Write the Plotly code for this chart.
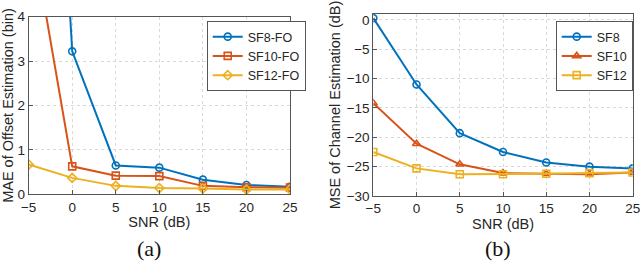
import plotly.graph_objects as go

snr = [-5, 0, 5, 10, 15, 20, 25]

# (a) MAE of offset estimation (bin)
mae_sf8 = [20.0, 3.22, 0.65, 0.60, 0.33, 0.21, 0.17]
mae_sf10 = [6.3, 0.63, 0.42, 0.41, 0.19, 0.16, 0.15]
mae_sf12 = [0.67, 0.37, 0.19, 0.14, 0.13, 0.11, 0.11]

# (b) MSE of channel estimation (dB)
mse_sf8 = [0.3, -11.0, -19.3, -22.5, -24.3, -25.0, -25.3]
mse_sf10 = [-14.2, -21.1, -24.6, -26.1, -26.2, -26.3, -26.0]
mse_sf12 = [-22.5, -25.3, -26.3, -26.3, -26.2, -26.1, -26.0]

x_ticks = [-5, 0, 5, 10, 15, 20, 25]
ya_ticks = [0, 1, 2, 3, 4]
yb_ticks = [-30, -25, -20, -15, -10, -5, 0]

C1, C2, C3 = "#0072BD", "#D95319", "#EDB120"
FONT = "Liberation Sans, Arial, sans-serif"
SERIF = "Liberation Serif, Times New Roman, serif"

fig = go.Figure()

def add(x, y, name, color, symbol, xa, ya, legend):
    fig.add_trace(go.Scatter(
        x=x, y=y, name=name, mode="lines+markers",
        line=dict(color=color, width=2),
        marker=dict(symbol=symbol, size=7, color=color,
                    line=dict(color=color, width=1.6)),
        xaxis=xa, yaxis=ya, legend=legend, cliponaxis=True))

add(snr, mae_sf8, "SF8-FO", C1, "circle-open", "x", "y", "legend")
add(snr, mae_sf10, "SF10-FO", C2, "square-open", "x", "y", "legend")
add(snr, mae_sf12, "SF12-FO", C3, "diamond-open", "x", "y", "legend")
add(snr, mse_sf8, "SF8", C1, "circle-open", "x2", "y2", "legend2")
add(snr, mse_sf10, "SF10", C2, "triangle-up-open", "x2", "y2", "legend2")
add(snr, mse_sf12, "SF12", C3, "square-open", "x2", "y2", "legend2")

axis_common = dict(
    showline=True, linecolor="#555555", linewidth=1, mirror=True,
    ticks="inside", ticklen=4, tickcolor="#555555",
    showgrid=True, gridcolor="#d9d9d9", griddash="dot", gridwidth=1,
    zeroline=False, automargin=False, ticklabeloverflow="allow",
    tickfont=dict(family=FONT, size=13.5, color="#262626"),
    title_font=dict(family=FONT, size=14.5, color="#262626"),
)

LEG = dict(bgcolor="white", bordercolor="#555555", borderwidth=1,
           font=dict(family=FONT, size=12.5, color="#262626"),
           itemwidth=30, tracegroupgap=0)

fig.update_layout(
    width=640, height=263,
    margin=dict(l=0, r=0, t=0, b=0, autoexpand=False),
    paper_bgcolor="white", plot_bgcolor="white",
    showlegend=True,
    xaxis=dict(domain=[0.0448, 0.4531], range=[-5, 25], tickvals=x_ticks,
               title=dict(text="SNR (dB)", standoff=3), anchor="y", **axis_common),
    yaxis=dict(domain=[0.2612, 0.9365], range=[0, 4], tickvals=ya_ticks,
               title=dict(text="MAE of Offset Estimation (bin)", standoff=2),
               anchor="x", **axis_common),
    xaxis2=dict(domain=[0.5833, 0.9886], range=[-5, 25], tickvals=x_ticks,
                title=dict(text="SNR (dB)", standoff=3), anchor="y2", **axis_common),
    yaxis2=dict(domain=[0.2548, 0.9468], range=[-30, 1], tickvals=yb_ticks,
                title=dict(text="MSE of Channel Estimation (dB)", standoff=2),
                anchor="x2", **axis_common),
    legend=dict(x=0.323, y=0.92, xanchor="left", yanchor="top", **LEG),
    legend2=dict(x=0.9886, y=0.92, xanchor="right", yanchor="top", **LEG),
    annotations=[
        dict(text="(a)", x=0.233, y=0.057, xref="paper", yref="paper",
             xanchor="center", yanchor="middle",
             showarrow=False, font=dict(family=SERIF, size=22, color="#111111")),
        dict(text="(b)", x=0.778, y=0.057, xref="paper", yref="paper",
             xanchor="center", yanchor="middle",
             showarrow=False, font=dict(family=SERIF, size=22, color="#111111")),
    ],
)

fig.write_html("out.html", config={"displayModeBar": False},
               post_script="document.body.style.margin='0px';")
